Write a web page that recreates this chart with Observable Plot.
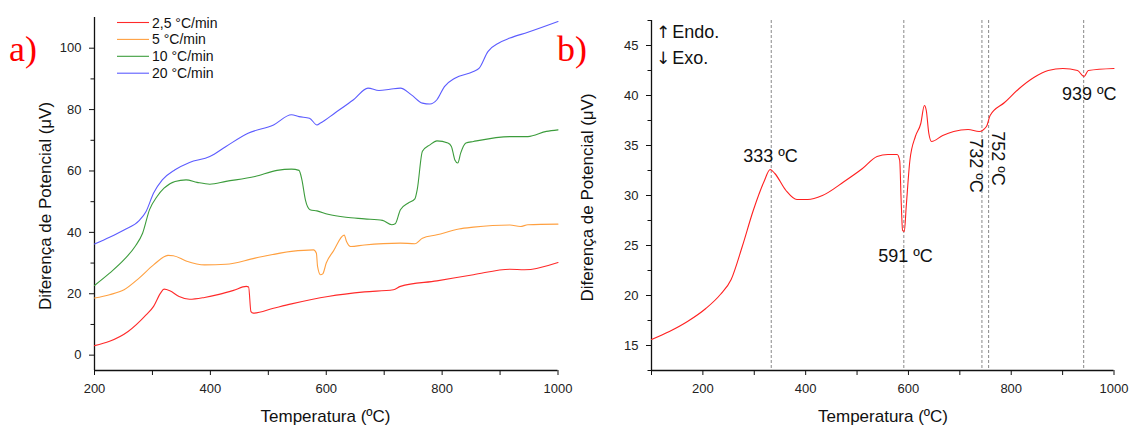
<!DOCTYPE html>
<html><head><meta charset="utf-8">
<script src="https://cdn.jsdelivr.net/npm/d3@7"></script>
<script src="https://cdn.jsdelivr.net/npm/@observablehq/plot@0.6"></script>
<style>
body{margin:0;background:#fff;}
#wrap{position:relative;width:1131px;height:426px;overflow:hidden;background:#fff;font-family:"Liberation Sans",Arial,sans-serif;}
.panel{position:absolute;top:0;}
.tag{position:absolute;font-family:"Liberation Serif","Times New Roman",serif;color:#f00;font-size:36px;line-height:1;}
</style></head><body><div id="wrap"></div>
<script>
// ---------- Panel a) data ----------
const rateLabels = ["2,5 °C/min", "5 °C/min", "10 °C/min", "20 °C/min"];
const rateColors = ["#ff2a2a", "#ffa040", "#3c9c3c", "#5c5cff"];

const tA25 = [200,226,258,289,302,314,320,330,346,364,390,415,440,462,466,470,474,509,540,603,666,716,728,791,854,917,942,1000];
const vA25 = [3.1,4.5,7.7,13.1,15.9,20.2,21.5,21.0,19.1,18.2,18.8,19.8,21.1,22.4,22.2,14.2,13.7,15.3,16.7,19.1,20.6,21.3,22.4,24.2,26.2,28.0,27.8,30.2];

const tA5 = [200,226,251,277,302,327,336,358,390,427,477,540,578,583,585,590,594,600,612,631,635,642,666,728,753,766,791,829,854,917,935,948,1000];
const vA5 = [18.6,19.7,21.3,25.1,29.4,32.5,32.4,30.7,29.4,29.6,31.6,33.8,34.3,33.2,28.9,26.2,26.5,30.0,33.8,39.1,37.0,35.4,35.9,36.5,36.3,38.1,39.2,41.1,41.7,42.4,41.9,42.5,42.7];

const tA10 = [200,226,251,270,283,295,308,320,339,358,377,399,427,477,515,540,553,558,564,572,584,603,634,666,697,713,719,728,741,753,757,766,779,791,810,816,822,827,832,841,854,917,948,980,1000];
const vA10 = [22.7,26.7,31.1,35.4,39.7,47.4,51.7,54.4,56.6,57.1,56.3,55.7,56.6,58.2,60.2,60.6,60.2,57.1,50.6,47.4,47.0,45.9,44.9,44.4,43.9,42.5,42.8,47.4,49.5,50.9,53.9,66.4,68.5,69.8,69.1,68.0,63.6,62.6,65.8,69.1,69.6,71.2,71.2,72.9,73.4];

const tA20 = [200,226,251,277,289,302,317,339,364,399,427,465,509,540,553,571,584,590,615,647,672,691,710,728,747,766,779,791,804,822,854,864,879,898,917,948,1000];
const vA20 = [36.2,38.4,40.8,43.8,46.8,52.8,57.1,60.4,62.8,64.7,68.0,72.3,75.0,78.3,77.7,77.2,75.0,75.6,78.9,83.2,87.0,86.2,86.6,87.0,84.8,82.1,81.8,83.2,87.5,90.2,92.4,93.5,98.9,101.7,103.3,105.2,108.7];

const xMajorA = [200,400,600,800,1000];
const xMinorA = [300,500,700,900];
const yMajorA = [0,20,40,60,80,100];
const yMinorA = [10,30,50,70,90];

// ---------- Panel b) data ----------
const tB = [100,134.8,170,205.7,234,255,276.6,298,319,331,340,361.7,383,404,432.6,475,510.6,539,560,578,583,585.8,588.6,592,595.7,602.8,613.5,624,631,634.7,639.7,645,666.7,688,716,737.6,751.8,758.9,787,815.6,844,872,900.7,929,941.8,950,1000];
const vB = [15.6,16.4,17.4,18.7,20.1,21.6,24.9,28.5,31.4,32.6,32.2,30.5,29.6,29.6,30.0,31.4,32.7,33.9,34.1,34.1,33.5,29.5,26.5,26.4,28.9,33.5,35.9,37.2,39.0,38.5,36.2,35.4,36.0,36.4,36.6,36.4,36.9,38.0,39.3,40.7,41.8,42.5,42.7,42.5,41.9,42.5,42.7];

const peakLines = [333, 591, 743, 756, 941];
const peakLabels = ["333 ºC", "591 ºC", "732 ºC", "752 ºC", "939 ºC"];
const peakLabelT = [331.6, 594.3, 730.5, 773.3, 951.9];
const peakLabelV = [33.9, 23.9, 33.0, 33.7, 40.1];
const peakLabelRot = [0, 0, 90, 90, 0];

const xMajorB = [200,400,600,800,1000];
const xMinorB = [100,300,500,700,900];
const yMajorB = [15,20,25,30,35,40,45];
const yMinorB = [12.5,17.5,22.5,27.5,32.5,37.5,42.5,47.5];

const axisTitleX = "Temperatura (ºC)";
const axisTitleY = "Diferença de Potencial (μV)";

// ---------- build ----------
const wrap = document.getElementById("wrap");
const baseStyle = {fontFamily: "'Liberation Sans', Arial, sans-serif", fontSize: "13px", background: "transparent", overflow: "visible", color: "#111"};
const fmt = d3.format("d");

function addSvgText(svg, x, y, txt, size, rot, anchor) {
  const t = d3.select(svg).append("text")
    .attr("x", x).attr("y", y)
    .attr("text-anchor", anchor || "middle")
    .attr("dominant-baseline", "central")
    .attr("font-size", size)
    .attr("font-family", "'Liberation Sans', Arial, sans-serif")
    .attr("fill", "#111")
    .text(txt);
  if (rot) t.attr("transform", `rotate(${rot},${x},${y})`);
  return t;
}

const rowsA = [];
[[tA25, vA25], [tA5, vA5], [tA10, vA10], [tA20, vA20]].forEach(([T, V], k) => {
  T.forEach((t, i) => rowsA.push({rate: rateLabels[k], T: t, V: V[i]}));
});

const plotA = Plot.plot({
  width: 580, height: 426,
  marginLeft: 94, marginRight: 22.5, marginTop: 17, marginBottom: 56,
  style: baseStyle,
  x: {domain: [200, 1000]},
  y: {domain: [-5, 110]},
  color: {domain: rateLabels, range: rateColors},
  marks: [
    Plot.axisX({ticks: xMajorA, tickSize: 5, tickPadding: 8, tickFormat: fmt, label: null, stroke: "#111", fill: "#222"}),
    Plot.axisX({ticks: xMinorA, tickSize: 5, tickFormat: () => "", label: null, stroke: "#111"}),
    Plot.axisY({ticks: yMajorA, tickSize: 5, tickPadding: 8, tickFormat: fmt, label: null, stroke: "#111", fill: "#222"}),
    Plot.axisY({ticks: yMinorA, tickSize: 3.5, tickFormat: () => "", label: null, stroke: "#111"}),
    Plot.ruleX([200], {stroke: "#111", strokeWidth: 1.3}),
    Plot.ruleY([-5], {stroke: "#111", strokeWidth: 1.3}),
    Plot.line(rowsA, {x: "T", y: "V", z: "rate", stroke: "rate", strokeWidth: 1.1, curve: "monotone-x"})
  ]
});
plotA.classList.add("panel");
plotA.style.left = "0px";
wrap.appendChild(plotA);
addSvgText(plotA, 325.5, 416.5, axisTitleX, 17);
addSvgText(plotA, 45, 206, axisTitleY, 17, -90);
// legend
rateLabels.forEach((lab, k) => {
  const y = 22.5 + k * 16.9;
  d3.select(plotA).append("line").attr("x1", 117).attr("x2", 149).attr("y1", y).attr("y2", y)
    .attr("stroke", rateColors[k]).attr("stroke-width", 1.1);
  addSvgText(plotA, 152, y, lab, 14, 0, "start");
});

const rowsB = tB.map((t, i) => ({T: t, V: vB[i]}));
const annB = peakLabels.map((s, i) => ({label: s, T: peakLabelT[i], V: peakLabelV[i], r: peakLabelRot[i]}));

const plotB = Plot.plot({
  width: 566, height: 426,
  marginLeft: 86, marginRight: 17.5, marginTop: 20, marginBottom: 56,
  style: baseStyle,
  x: {domain: [100, 1000]},
  y: {domain: [12.5, 47.5]},
  marks: [
    Plot.ruleX(peakLines, {stroke: "#888", strokeDasharray: "3,2", strokeWidth: 1}),
    Plot.axisX({ticks: xMajorB, tickSize: 5, tickPadding: 8, tickFormat: fmt, label: null, stroke: "#111", fill: "#222"}),
    Plot.axisX({ticks: xMinorB, tickSize: 5, tickFormat: () => "", label: null, stroke: "#111"}),
    Plot.axisY({ticks: yMajorB, tickSize: 5, tickPadding: 8, tickFormat: fmt, label: null, stroke: "#111", fill: "#222"}),
    Plot.axisY({ticks: yMinorB, tickSize: 3.5, tickFormat: () => "", label: null, stroke: "#111"}),
    Plot.ruleX([100], {stroke: "#111", strokeWidth: 1.3}),
    Plot.ruleY([12.5], {stroke: "#111", strokeWidth: 1.3}),
    Plot.line(rowsB, {x: "T", y: "V", stroke: "#ff2020", strokeWidth: 1.1, curve: "monotone-x"}),
    Plot.text(annB.filter(d => d.r === 0), {x: "T", y: "V", text: "label", fontSize: 18, fill: "#111", textAnchor: "middle", lineAnchor: "middle"}),
    Plot.text(annB.filter(d => d.r !== 0), {x: "T", y: "V", text: "label", rotate: 90, fontSize: 18, fill: "#111", textAnchor: "middle", lineAnchor: "middle"})
  ]
});
plotB.classList.add("panel");
plotB.style.left = "565px";
wrap.appendChild(plotB);
addSvgText(plotB, 318, 416.5, axisTitleX, 17);
addSvgText(plotB, 22, 197.5, axisTitleY, 17, -90);
function arrowLine(y, arrow, word) {
  const t = d3.select(plotB).append("text").attr("x", 91).attr("y", y)
    .attr("text-anchor", "start")
    .attr("dominant-baseline", "central").attr("font-size", 18).attr("fill", "#111")
    .attr("font-family", "'Liberation Sans', Arial, sans-serif");
  t.append("tspan").attr("font-family", "'DejaVu Sans'").attr("font-size", 17).text(arrow);
  t.append("tspan").attr("dx", 2).text(word);
}
arrowLine(32, "↑", "Endo.");
arrowLine(58, "↓", "Exo.");

// panel tags
const tagA = document.createElement("div");
tagA.className = "tag"; tagA.textContent = "a)"; tagA.style.left = "9px"; tagA.style.top = "31px";
wrap.appendChild(tagA);
const tagB = document.createElement("div");
tagB.className = "tag"; tagB.textContent = "b)"; tagB.style.left = "557px"; tagB.style.top = "31px";
wrap.appendChild(tagB);
</script>
</body></html>
